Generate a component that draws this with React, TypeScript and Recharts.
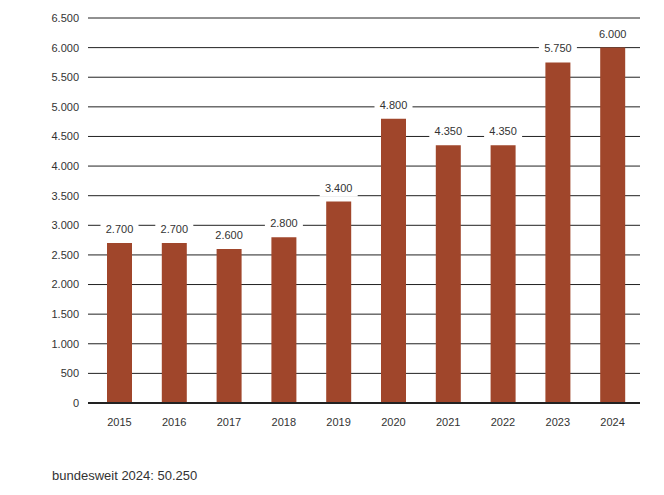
import React from "react";
import { BarChart, Bar, XAxis, YAxis, CartesianGrid, LabelList } from "recharts";

const years = ["2015", "2016", "2017", "2018", "2019", "2020", "2021", "2022", "2023", "2024"];
const counts = [2700, 2700, 2600, 2800, 3400, 4800, 4350, 4350, 5750, 6000];
const yTicks = [0, 500, 1000, 1500, 2000, 2500, 3000, 3500, 4000, 4500, 5000, 5500, 6000, 6500];

const data = years.map((year, i) => ({ year, value: counts[i] }));

const FONT = "'Liberation Sans', Arial, sans-serif";
const TEXT = "#333";

// German thousands separator: 2700 -> "2.700"
const fmt = (v: number) => String(v).replace(/\B(?=(\d{3})+(?!\d))/g, ".");

const BarLabel = (props: any) => {
  const { x, y, width, value } = props;
  const cx = x + width / 2;
  const base = y - 10;
  return (
    <g>
      <rect x={cx - 19} y={base - 11} width={38} height={16} fill="#fff" />
      <text x={cx} y={base} textAnchor="middle" fontSize={11} fontFamily={FONT} fill={TEXT}>
        {fmt(value)}
      </text>
    </g>
  );
};

const App = () => {
  return (
    <div style={{ position: "relative", width: 656, height: 479 }}>
      <BarChart
        width={656}
        height={440}
        data={data}
        margin={{ top: 10, right: 24, left: 0, bottom: 5 }}
      >
        <CartesianGrid vertical={false} stroke="#222" strokeWidth={1} />
        <XAxis
          dataKey="year"
          padding={{ left: 4, right: 0 }}
          tickLine={false}
          tickSize={0}
          tickMargin={15}
          axisLine={{ stroke: "#222", strokeWidth: 2 }}
          height={40}
          tick={{ fontSize: 11, fontFamily: FONT, fill: TEXT }}
        />
        <YAxis
          domain={[0, 6500]}
          ticks={yTicks}
          interval={0}
          width={80}
          axisLine={false}
          tickLine={false}
          tickSize={0}
          tickMargin={9}
          tickFormatter={fmt}
          tick={{ fontSize: 11, fontFamily: FONT, fill: TEXT }}
        />
        <Bar dataKey="value" fill="#A0462B" barSize={25} isAnimationActive={false}>
          <LabelList dataKey="value" content={<BarLabel />} />
        </Bar>
      </BarChart>
      <div
        style={{
          position: "absolute",
          left: 44,
          top: 460,
          fontFamily: FONT,
          fontSize: 13,
          color: TEXT,
          whiteSpace: "nowrap",
        }}
      >
        bundesweit 2024: 50.250
      </div>
    </div>
  );
};

export default App;
